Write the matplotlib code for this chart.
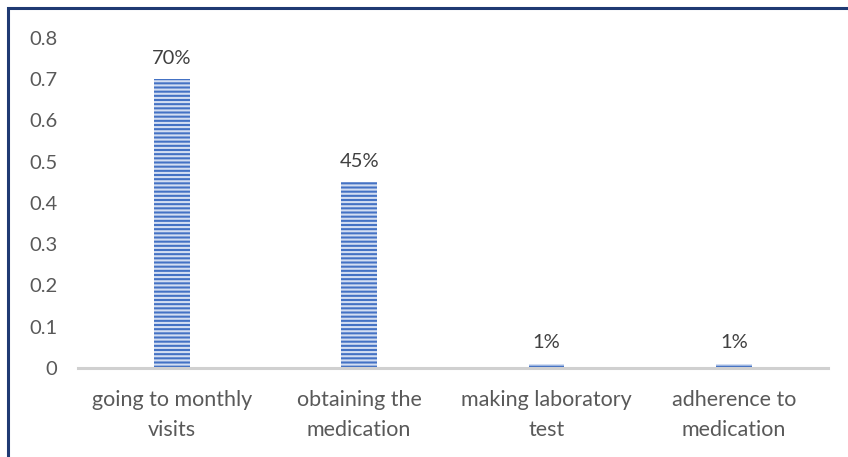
import matplotlib.pyplot as plt
from matplotlib.patches import Rectangle

plt.rcParams["font.family"] = ["Lato", "DejaVu Sans"]
plt.rcParams["hatch.linewidth"] = 1.5

categories = ["going to monthly\nvisits", "obtaining the\nmedication",
              "making laboratory\ntest", "adherence to\nmedication"]
shares = [0.70, 0.45, 0.01, 0.01]
share_labels = ["70%", "45%", "1%", "1%"]
yticks = [0, 0.1, 0.2, 0.3, 0.4, 0.5, 0.6, 0.7, 0.8]

text_grey = "#595959"

fig = plt.figure(figsize=(8.48, 4.57), dpi=100)
ax = fig.add_axes([0.092, 0.195, 0.884, 0.722])

x = range(len(categories))
ax.bar(x, shares, width=0.19, color="#4472C4", edgecolor="#D3DEF2",
       linewidth=0, hatch="----", zorder=2)

for xi, val, lab in zip(x, shares, share_labels):
    ax.annotate(lab, (xi, val), xytext=(0, 9), textcoords="offset points",
                ha="center", va="bottom", fontsize=14.5, color="#404040")

ax.set_xlim(-0.5, len(categories) - 0.5)
ax.set_ylim(0, 0.8)
ax.set_yticks(yticks)
ax.set_yticklabels([f"{t:g}" for t in yticks])
ax.set_xticks(list(x))
ax.set_xticklabels(categories, linespacing=1.6)

ax.tick_params(axis="both", length=0, colors=text_grey)
ax.tick_params(axis="y", pad=15, labelsize=14.5)
ax.tick_params(axis="x", pad=16, labelsize=15.5)

for side in ["top", "right", "left"]:
    ax.spines[side].set_visible(False)
ax.spines["bottom"].set_color("#D0D0D0")
ax.spines["bottom"].set_linewidth(2.2)

# dark frame around the whole panel
fig.patches.append(Rectangle((8 / 848, -0.05), 1.1, 1 - 8 / 457 + 0.05,
                             transform=fig.transFigure, fill=False,
                             edgecolor="#1F3A73", linewidth=2.2))

fig.savefig("out.png", dpi=100)
